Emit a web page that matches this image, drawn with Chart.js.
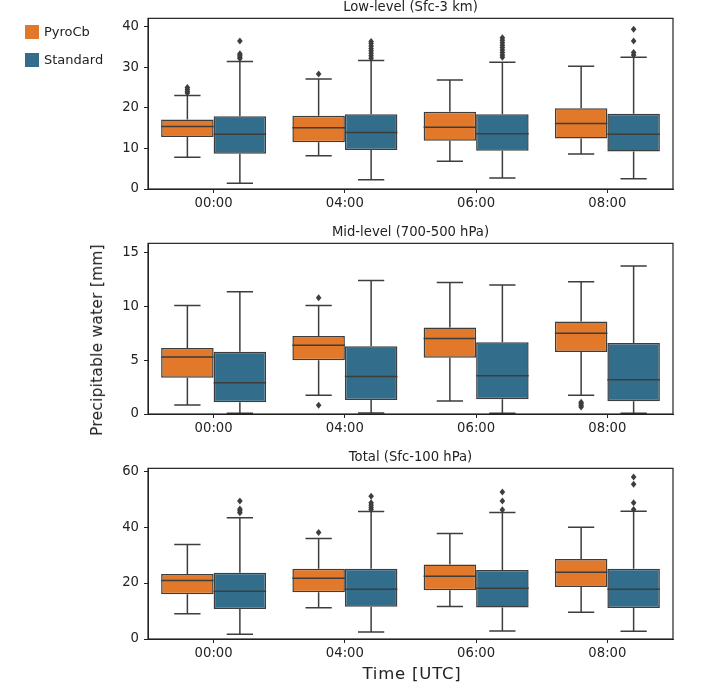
<!DOCTYPE html>
<html>
<head>
<meta charset="utf-8">
<script src="https://cdn.jsdelivr.net/npm/chart.js@4"></script>
<style>
body{margin:0;background:#fff;font-family:'DejaVu Sans',sans-serif;color:#222}
#fig{position:relative;width:708px;height:697px}
canvas{position:absolute;left:0}
.leg{position:absolute;left:25px;font-size:13px;line-height:14px}
.leg span{display:inline-block;width:14px;height:14px;vertical-align:top;margin-right:5px}
</style>
</head>
<body>
<div id="fig">
<canvas id="c1" width="708" height="215" style="top:0"></canvas>
<canvas id="c2" width="708" height="215" style="top:225px"></canvas>
<canvas id="c3" width="708" height="215" style="top:450px"></canvas>
<div class="leg" style="top:25px"><span style="background:#e1782a"></span>PyroCb</div>
<div class="leg" style="top:53px"><span style="background:#326e8b"></span>Standard</div>
<div style="position:absolute;left:97px;top:340px;transform:translate(-50%,-50%) rotate(-90deg);font-size:15.5px;white-space:nowrap;letter-spacing:0.2px">Precipitable water [mm]</div>
<div style="position:absolute;left:412px;top:673px;transform:translate(-50%,-50%);font-size:16.5px;white-space:nowrap;letter-spacing:0.8px">Time [UTC]</div>
</div>
<script>
var times=['00:00','04:00','06:00','08:00'];
// each row: lower whisker, q1, median, q3, upper whisker
var lowPyro=[[7.8,12.8,15.4,17.1,23.0],[8.2,11.5,15.1,18.0,27.1],[6.8,11.9,15.2,19.0,26.8],[8.6,12.4,16.1,19.9,30.2]];
var lowStd=[[1.4,8.7,13.5,17.9,31.4],[2.3,9.6,13.9,18.4,31.6],[2.7,9.4,13.6,18.4,31.2],[2.5,9.2,13.5,18.5,32.4]];
var lowPyroOut=[[23.6,24.0,24.5,25.0],[28.3],[],[]];
var lowStdOut=[[32.1,32.5,32.9,33.3,36.4],[32.2,32.8,33.4,34.0,34.6,35.2,35.8,36.3],[32.4,33.0,33.6,34.2,34.8,35.4,36.0,36.6,37.2],[33.0,33.6,36.4,39.3]];

var midPyro=[[0.84,3.37,5.3,6.15,10.12],[1.75,5.0,6.4,7.27,10.12],[1.22,5.25,7.03,8.06,12.24],[1.75,5.77,7.53,8.62,12.33]];
var midStd=[[0.06,1.09,2.9,5.81,11.4],[0.09,1.31,3.5,6.31,12.43],[0.06,1.37,3.56,6.68,12.02],[0.06,1.18,3.19,6.62,13.8]];
var midPyroOut=[[],[0.81,10.84],[],[0.65,0.8,0.95,1.1]];
var midStdOut=[[],[],[],[]];

var totPyro=[[9.0,16.0,20.9,23.2,33.8],[11.2,16.7,21.7,25.1,35.9],[11.65,17.4,22.4,26.6,37.7],[9.6,18.6,23.9,28.6,39.9]];
var totStd=[[1.7,10.7,17.05,23.7,43.3],[2.5,11.5,17.8,25.1,45.6],[2.9,11.3,18.1,24.7,45.2],[2.8,11.05,17.8,25.1,45.7]];
var totPyroOut=[[],[38.1],[],[]];
var totStdOut=[[45.1,45.8,46.5,49.3],[46.3,47.0,47.8,48.7,51.0],[46.2,49.3,52.5],[46.3,48.7,55.3,57.9]];

var lowTicks=[0,10,20,30,40];
var midTicks=[0,5,10,15];
var totTicks=[0,20,40,60];

var orange='#e1782a', blue='#326e8b', lineCol='#3d3d3d';
var font={family:'DejaVu Sans',size:13.2};

var boxPlugin={
	id:'boxes',
	afterDatasetsDraw:function(chart){
		var ctx=chart.ctx, y=chart.scales.y, a=chart.chartArea;
		ctx.save();
		chart.data.datasets.forEach(function(ds,di){
			var meta=chart.getDatasetMeta(di);
			meta.data.forEach(function(bar,i){
				var s=ds.stats[i], x=bar.x, hw=bar.width/2;
				ctx.strokeStyle=lineCol;
				ctx.lineWidth=1.5;
				ctx.beginPath();
				ctx.moveTo(x-hw,y.getPixelForValue(s[2]));ctx.lineTo(x+hw,y.getPixelForValue(s[2]));
				ctx.moveTo(x,y.getPixelForValue(s[3]));ctx.lineTo(x,y.getPixelForValue(s[4]));
				ctx.moveTo(x,y.getPixelForValue(s[1]));ctx.lineTo(x,y.getPixelForValue(s[0]));
				ctx.moveTo(x-hw/2,y.getPixelForValue(s[4]));ctx.lineTo(x+hw/2,y.getPixelForValue(s[4]));
				ctx.moveTo(x-hw/2,y.getPixelForValue(s[0]));ctx.lineTo(x+hw/2,y.getPixelForValue(s[0]));
				ctx.stroke();
				ctx.fillStyle=lineCol;
				ds.outliers[i].forEach(function(v){
					var py=y.getPixelForValue(v);
					ctx.beginPath();
					ctx.moveTo(x,py-3.5);ctx.lineTo(x+2.8,py);ctx.lineTo(x,py+3.5);ctx.lineTo(x-2.8,py);
					ctx.closePath();
					ctx.fill();
				});
			});
		});
		ctx.strokeStyle='#222';
		ctx.lineWidth=1.2;
		ctx.strokeRect(a.left,a.top,a.width,a.height);
		ctx.restore();
	}
};

function makePanel(id,title,pyro,std,pyroOut,stdOut,yMax,yTicks){
	var ctx=document.getElementById(id);
	return new Chart(ctx,{
		type:'bar',
		data:{
			labels:times,
			datasets:[
			{
				label:'PyroCb',
				data:pyro.map(function(r){return [r[1],r[3]];}),
				stats:pyro,
				outliers:pyroOut,
				backgroundColor:orange,
				borderColor:lineCol,
				borderWidth:1.5,
				borderSkipped:false,
				barPercentage:1,
				categoryPercentage:0.8
			},
			{
				label:'Standard',
				data:std.map(function(r){return [r[1],r[3]];}),
				stats:std,
				outliers:stdOut,
				backgroundColor:blue,
				borderColor:lineCol,
				borderWidth:1.5,
				borderSkipped:false,
				barPercentage:1,
				categoryPercentage:0.8
			}
			]
		},
		options:{
			responsive:false,
			animation:false,
			layout:{padding:{left:0,right:35,top:0,bottom:0}},
			plugins:{
				legend:{display:false},
				tooltip:{enabled:false},
				title:{display:true,text:title,color:'#222',fullSize:false,font:{family:'DejaVu Sans',size:13.2,weight:'normal'},padding:{top:0,bottom:2.5}}
			},
			scales:{
				x:{
					grid:{offset:false,drawOnChartArea:false,tickLength:4,color:'#222',tickWidth:1},
					border:{color:'#222'},
					ticks:{color:'#222',font:font,padding:3},
					afterFit:function(s){s.height=26;}
				},
				y:{
					min:0,max:yMax,
					grid:{drawOnChartArea:false,tickLength:4,color:'#222'},
					border:{color:'#222'},
					ticks:{color:'#222',font:font,padding:5},
					afterBuildTicks:function(s){s.ticks=yTicks.map(function(v){return {value:v};});},
					afterFit:function(s){s.width=148;}
				}
			}
		},
		plugins:[boxPlugin]
	});
}

makePanel('c1','Low-level (Sfc-3 km)',lowPyro,lowStd,lowPyroOut,lowStdOut,42,lowTicks);
makePanel('c2','Mid-level (700-500 hPa)',midPyro,midStd,midPyroOut,midStdOut,15.9,midTicks);
makePanel('c3','Total (Sfc-100 hPa)',totPyro,totStd,totPyroOut,totStdOut,61,totTicks);
</script>
</body>
</html>
